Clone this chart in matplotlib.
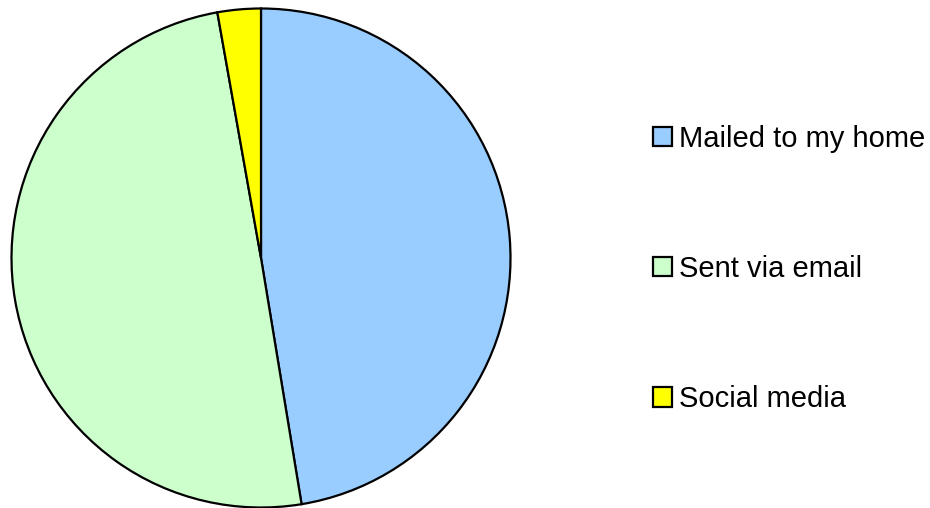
import matplotlib.pyplot as plt
from matplotlib.patches import Patch

plt.rcParams['font.family'] = ['Liberation Sans', 'DejaVu Sans']

# data (percent)
labels = ['Mailed to my home', 'Sent via email', 'Social media']
values = [47.4, 49.8, 2.8]
colors = ['#99ccff', '#ccffcc', '#ffff00']

fig = plt.figure(figsize=(9.3, 5.08), dpi=100)
ax = fig.add_axes([9/930, -2/508, 504/930, 504/508])

ax.pie(values, colors=colors, startangle=90, counterclock=False,
       wedgeprops=dict(edgecolor='black', linewidth=1.6))
ax.set_xlim(-1.01, 1.01)
ax.set_ylim(-1.01, 1.01)
ax.set_aspect('equal')

handles = [Patch(facecolor=c, edgecolor='black', linewidth=1.6) for c in colors]
leg = fig.legend(handles, labels, loc='center left',
                 bbox_to_anchor=(653/930, 1 - 269/508),
                 frameon=False, fontsize=21, handlelength=0.65,
                 handleheight=0.65, handletextpad=0.25, labelspacing=3.5,
                 borderpad=0, borderaxespad=0)

fig.savefig('out.png', dpi=100)
